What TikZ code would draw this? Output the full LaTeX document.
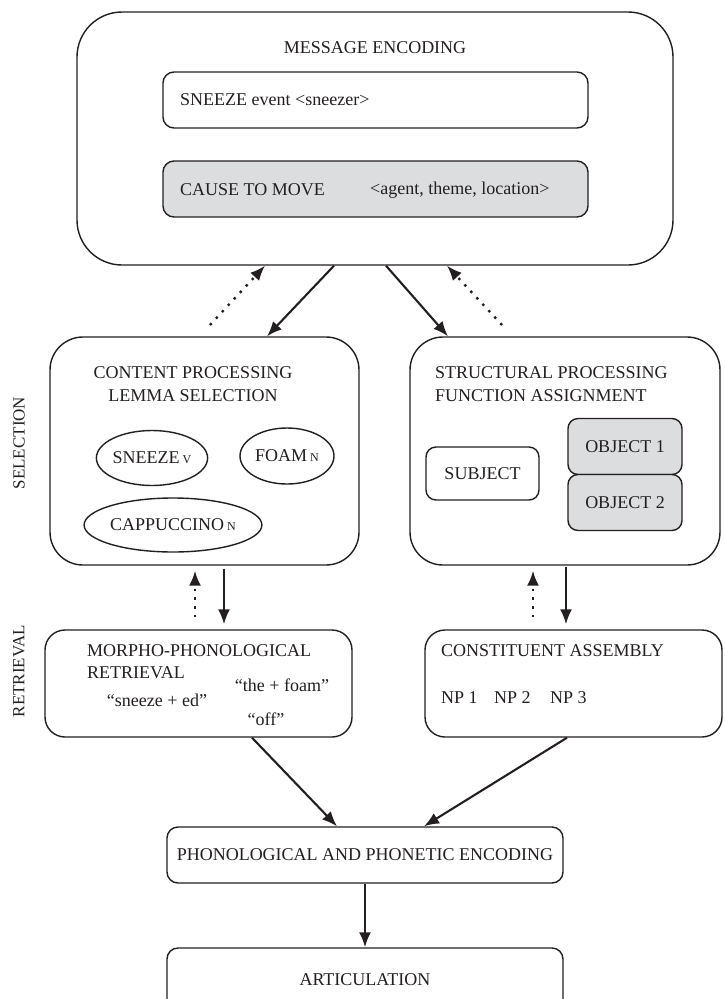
\documentclass[tikz,border=0pt]{standalone}
\usepackage{fontspec}
\setmainfont{Liberation Serif}
\usetikzlibrary{arrows.meta,shapes.geometric,calc}
\definecolor{linecol}{RGB}{35,31,32}
\definecolor{boxgray}{RGB}{220,221,223}
\begin{document}
\begin{tikzpicture}[x=1pt,y=-1pt,
  every node/.style={font=\fontsize{18}{22}\selectfont, text=linecol},
  box/.style={draw=linecol, line width=1.4pt, rounded corners=#1, inner sep=0pt},
  box/.default=11pt,
  lem/.style={ellipse, draw=linecol, line width=1.4pt, inner sep=0pt},
  solidarrow/.style={draw=linecol, line width=2.1pt, -{Latex[length=15pt,width=12pt]}},
  dotarrow/.style={draw=linecol, line width=2.4pt, dash pattern=on 2.4pt off 6.4pt, -{Latex[length=15pt,width=12pt]}},
  sidelabel/.style={rotate=90, inner sep=0pt, font=\fontsize{17}{20}\selectfont}
]
\useasboundingbox (0,0) rectangle (725,999);
\clip (0,0) rectangle (725,999);
\fill[white] (0,0) rectangle (725,999);

% message encoding
\node[box=45pt, minimum width=596pt, minimum height=253pt] (msg) at (375,138.5) {};
\node (msgtitle) at (375,48) {MESSAGE ENCODING};
\node[box, minimum width=425pt, minimum height=56pt] (sneezeev) at (375.5,100) {};
\node[anchor=west, inner sep=0pt] (sneezeevt) at (180,100) {SNEEZE event <sneezer>};
\node[box, fill=boxgray, minimum width=425pt, minimum height=56pt] (cause) at (375.5,189) {};
\node[anchor=west, inner sep=0pt] (causet) at (180,190) {CAUSE TO MOVE};
\node[anchor=west, inner sep=0pt] (causeargs) at (370,190) {<agent, theme, location>};

% content processing
\node[box=33pt, minimum width=309pt, minimum height=228pt] (content) at (204.5,451) {};
\node[align=center, font=\fontsize{18}{23}\selectfont] (contentt) at (193,384) {CONTENT PROCESSING\\LEMMA SELECTION};
\node[lem, minimum width=93pt, minimum height=55pt] (sneezev) at (152,458) {SNEEZE\,{\fontsize{12}{12}\selectfont V}};
\node[lem, minimum width=94pt, minimum height=56pt] (foam) at (287,456) {FOAM\,{\fontsize{12}{12}\selectfont N}};
\node[lem, minimum width=155pt, minimum height=54pt] (capp) at (173,525) {CAPPUCCINO\,{\fontsize{12}{12}\selectfont N}};

% structural processing
\node[box=33pt, minimum width=310pt, minimum height=228pt] (struct) at (565,451) {};
\node[align=left, anchor=west, inner sep=0pt, font=\fontsize{18}{23}\selectfont] (structt) at (435,384) {STRUCTURAL PROCESSING\\FUNCTION ASSIGNMENT};
\node[box=10pt, minimum width=113pt, minimum height=53pt] (subj) at (482.5,473.5) {SUBJECT};
\node[box=10pt, fill=boxgray, minimum width=114pt, minimum height=56pt] (obj1) at (625,446.5) {OBJECT 1};
\node[box=10pt, fill=boxgray, minimum width=114pt, minimum height=56pt] (obj2) at (625,502.5) {OBJECT 2};

% retrieval
\node[box=20pt, minimum width=307pt, minimum height=107pt] (morph) at (198.5,683.5) {};
\node[align=left, anchor=west, inner sep=0pt, font=\fontsize{18}{22}\selectfont] (morpht) at (87,662) {MORPHO-PHONOLOGICAL\\RETRIEVAL};
\node (sneezeed) at (157,700) {“sneeze + ed”};
\node (thefoam) at (282,685) {“the + foam”};
\node (off) at (266,719) {“off”};

\node[box=20pt, minimum width=297pt, minimum height=107pt] (const) at (573.5,683.5) {};
\node[anchor=west, inner sep=0pt] (constt) at (441,651) {CONSTITUENT ASSEMBLY};
\node[anchor=west, inner sep=0pt] (np1) at (441,698) {NP 1};
\node[anchor=west, inner sep=0pt] (np2) at (494,698) {NP 2};
\node[anchor=west, inner sep=0pt] (np3) at (550,698) {NP 3};

% encoding and articulation
\node[box, minimum width=396pt, minimum height=56pt] (phono) at (365,855) {PHONOLOGICAL AND PHONETIC ENCODING};
\node[box, minimum width=396pt, minimum height=76pt] (artic) at (365,986) {};
\node (artict) at (365,980) {ARTICULATION};

% side labels
\node[sidelabel] (selection) at (19,443) {SELECTION};
\node[sidelabel] (retrieval) at (19,671) {RETRIEVAL};

% connectors top
\coordinate (dl) at (210,325);
\coordinate (dr) at (502,325);
\draw[dotarrow] (dl) -- ([xshift=-110pt]msg.south);
\draw[dotarrow] (dr) -- ([xshift=72pt]msg.south);
\draw[solidarrow] ([xshift=-41pt]msg.south) -- ([xshift=62.5pt]content.north);
\draw[solidarrow] ([xshift=11pt]msg.south) -- ([xshift=-117pt]struct.north);

% connectors middle
\draw[dotarrow, shorten <=12pt, shorten >=5pt] ([xshift=-3.5pt]morph.north) -- ([xshift=-9.5pt]content.south);
\draw[solidarrow, shorten <=3pt, shorten >=5pt] ([xshift=19.5pt]content.south) -- ([xshift=25.5pt]morph.north);
\draw[dotarrow, shorten <=12pt, shorten >=5pt] ([xshift=-40.5pt]const.north) -- ([xshift=-32pt]struct.south);
\draw[solidarrow, shorten <=1pt, shorten >=5pt] ([xshift=1pt]struct.south) -- ([xshift=-7.5pt]const.north);

% connectors bottom
\draw[solidarrow] ([xshift=53.5pt]morph.south) -- ([xshift=-28pt]phono.north);
\draw[solidarrow] ([xshift=-6.5pt]const.south) -- ([xshift=59pt]phono.north);
\draw[solidarrow] (phono.south) -- (artic.north);
\end{tikzpicture}
\end{document}
